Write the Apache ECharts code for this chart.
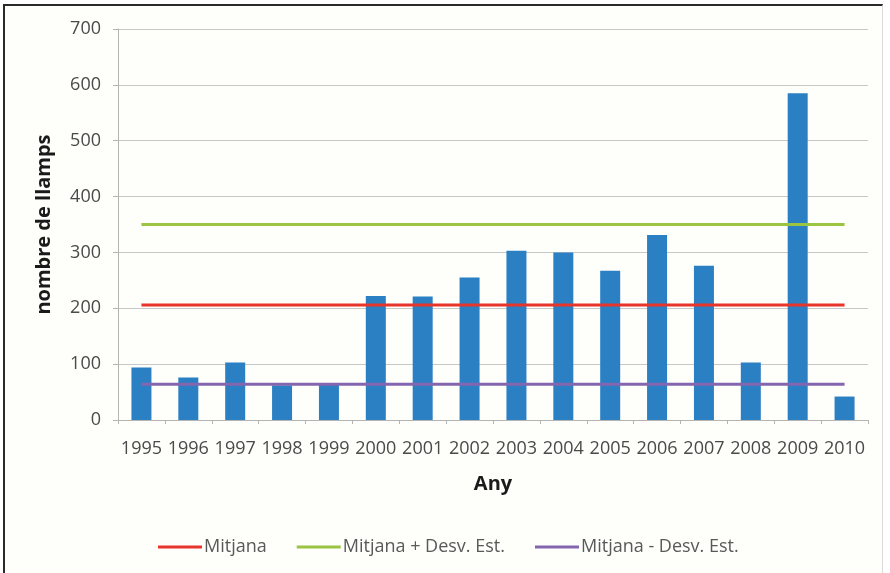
<!DOCTYPE html>
<html>
<head>
<meta charset="utf-8">
<script src="https://cdn.jsdelivr.net/npm/echarts@6/dist/echarts.min.js"></script>
<style>
  html, body { margin: 0; padding: 0; background: #ffffff; }
  #frame {
    position: absolute; left: 3px; top: 4px; width: 877px; height: 567px;
    background: #fefefb;
    border-left: 2px solid #2a2a2a; border-top: 2px solid #2a2a2a;
    border-right: 1px solid #d9d9d9; border-bottom: 1px solid #d9d9d9;
  }
  #chart { position: absolute; left: 0; top: 0; width: 890px; height: 573px; }
</style>
</head>
<body>
<div id="frame"></div>
<div id="chart"></div>
<script>
// Annual lightning counts
const years = ['1995','1996','1997','1998','1999','2000','2001','2002','2003','2004','2005','2006','2007','2008','2009','2010'];
const llamps = [94, 76, 103, 62, 63, 222, 221, 255, 303, 300, 267, 331, 276, 103, 585, 42];

// Reference lines: mean and mean ± standard deviation
const mitjana      = [206, 206, 206, 206, 206, 206, 206, 206, 206, 206, 206, 206, 206, 206, 206, 206];
const mitjanaMes   = [350, 350, 350, 350, 350, 350, 350, 350, 350, 350, 350, 350, 350, 350, 350, 350];
const mitjanaMenys = [64, 64, 64, 64, 64, 64, 64, 64, 64, 64, 64, 64, 64, 64, 64, 64];

const yTicks = { min: 0, max: 700, interval: 100 };

const FONT = '"Open Sans", sans-serif';
const chart = echarts.init(document.getElementById('chart'), null, { renderer: 'canvas' });

function refLine(name, data, color) {
  return {
    name: name, type: 'line', data: data, symbol: 'none', z: 5,
    lineStyle: { color: color, width: 3 }, itemStyle: { color: color },
    silent: true, animation: false
  };
}

chart.setOption({
  backgroundColor: 'transparent',
  animation: false,
  grid: { left: 118, right: 22, top: 29, bottom: 153, containLabel: false },
  legend: {
    left: 153, top: 533,
    itemWidth: 44, itemHeight: 3, itemGap: 30,
    icon: 'rect',
    textStyle: { fontFamily: FONT, fontSize: 18, color: '#595959', padding: [0, 0, 0, -3] },
    data: ['Mitjana', 'Mitjana + Desv. Est.', 'Mitjana - Desv. Est.']
  },
  xAxis: {
    type: 'category', data: years,
    name: 'Any', nameLocation: 'middle', nameGap: 54,
    nameTextStyle: { fontFamily: FONT, fontSize: 20, fontWeight: 'bold', color: '#1a1a1a' },
    axisLine: { lineStyle: { color: '#b4b4b4', width: 1 } },
    axisTick: { show: true, length: 4, alignWithLabel: false, lineStyle: { color: '#b4b4b4' } },
    axisLabel: { fontFamily: FONT, fontSize: 18, color: '#4a4a4a', margin: 20, interval: 0 }
  },
  yAxis: {
    type: 'value', min: yTicks.min, max: yTicks.max, interval: yTicks.interval,
    name: 'nombre de llamps', nameLocation: 'middle', nameGap: 64,
    nameTextStyle: { fontFamily: FONT, fontSize: 20, fontWeight: 'bold', color: '#1a1a1a' },
    axisLine: { show: true, lineStyle: { color: '#b4b4b4', width: 1 } },
    axisTick: { show: true, length: 5, lineStyle: { color: '#b4b4b4' } },
    axisLabel: { fontFamily: FONT, fontSize: 18, color: '#4a4a4a', margin: 17 },
    splitLine: { lineStyle: { color: '#c8c8c8', width: 1 } }
  },
  series: [
    {
      name: 'nombre de llamps', type: 'bar', data: llamps, barWidth: 20,
      itemStyle: { color: '#2b7fc3' }, z: 2
    },
    refLine('Mitjana', mitjana, '#e8352b'),
    refLine('Mitjana + Desv. Est.', mitjanaMes, '#9cc443'),
    refLine('Mitjana - Desv. Est.', mitjanaMenys, '#8466b0')
  ]
});
</script>
</body>
</html>
